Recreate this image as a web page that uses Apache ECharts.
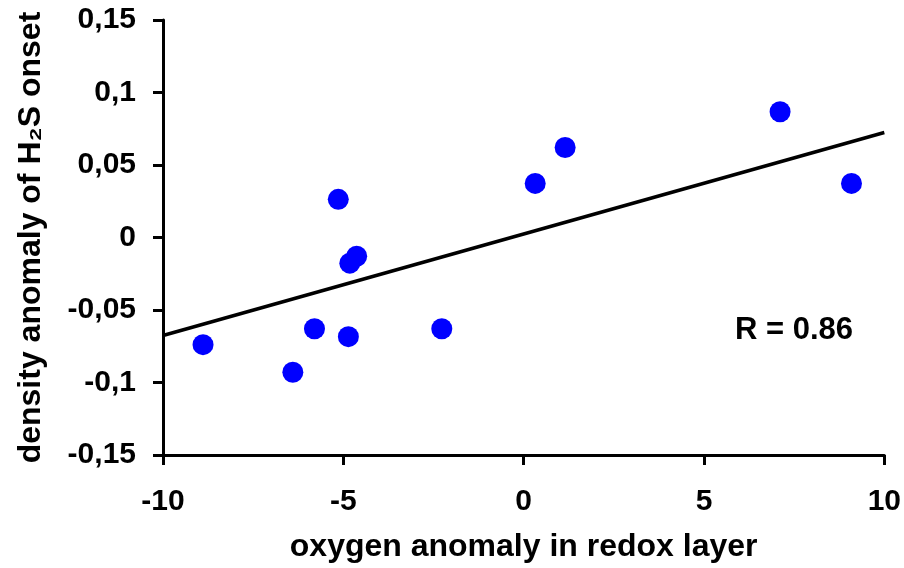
<!DOCTYPE html>
<html lang="en">
<head>
    <meta charset="UTF-8">
    <title>density anomaly vs oxygen anomaly</title>
    <style>
        body{ margin: 0; background: #fff; }
        #main{ width: 904px; height: 568px; }
    </style>
</head>
<body>
<div id="main"></div>
<script src="https://cdn.jsdelivr.net/npm/echarts@6/dist/echarts.min.js"></script>
<script>
    // points
    const oxygenAnomaly = [-8.89, -6.40, -5.80, -5.14, -4.86, -4.82, -4.63, -2.27, 0.32, 1.15, 7.11, 9.09];
    const densityAnomaly = [-0.0739, -0.0929, -0.0629, 0.0263, -0.0684, -0.0177, -0.0129, -0.0629, 0.0373, 0.0621, 0.0867, 0.0373];
    // regression line end points
    const trendX = [-10, 10];
    const trendY = [-0.0676, 0.0724];
    const xTicks = [-10, -5, 0, 5, 10];
    const yTicks = [-0.15, -0.1, -0.05, 0, 0.05, 0.1, 0.15];

    const font = 'Liberation Sans, Arial, sans-serif';
    const points = oxygenAnomaly.map((x, i) => [x, densityAnomaly[i]]);
    const trend = trendX.map((x, i) => [x, trendY[i]]);

    const myChart = echarts.init(document.getElementById('main'));
    myChart.setOption({
        animation: false,
        grid: { left: 163, right: 19, top: 20, bottom: 113 },
        xAxis: {
            type: 'value',
            min: xTicks[0],
            max: xTicks[xTicks.length - 1],
            interval: 5,
            splitLine: { show: false },
            axisLine: { onZero: false, lineStyle: { color: '#000', width: 3 } },
            axisTick: { length: 10, lineStyle: { color: '#000', width: 3 } },
            axisLabel: {
                margin: 32, color: '#000', fontSize: 30, fontWeight: 'bold', fontFamily: font
            },
            name: 'oxygen anomaly in redox layer',
            nameLocation: 'middle',
            nameGap: 76,
            nameTextStyle: { color: '#000', fontSize: 32, fontWeight: 'bold', fontFamily: font }
        },
        yAxis: {
            type: 'value',
            min: yTicks[0],
            max: yTicks[yTicks.length - 1],
            interval: 0.05,
            splitLine: { show: false },
            axisLine: { onZero: false, lineStyle: { color: '#000', width: 3 } },
            axisTick: { length: 10, lineStyle: { color: '#000', width: 3 } },
            axisLabel: {
                margin: 27, color: '#000', fontSize: 30, fontWeight: 'bold', fontFamily: font,
                formatter: v => String(+v.toFixed(2)).replace('.', ',')
            },
            name: 'density anomaly of H₂S onset',
            nameLocation: 'middle',
            nameGap: 116,
            nameTextStyle: { color: '#000', fontSize: 32, fontWeight: 'bold', fontFamily: font }
        },
        graphic: [{
            type: 'text',
            left: 735,
            top: 315,
            style: { text: 'R = 0.86', fill: '#000', font: 'bold 31px ' + font }
        }],
        series: [
            {
                type: 'line',
                data: trend,
                symbol: 'none',
                lineStyle: { color: '#000', width: 3.5 },
                z: 1
            },
            {
                type: 'scatter',
                data: points,
                symbolSize: 21,
                itemStyle: { color: '#0000ff', opacity: 1 },
                z: 2
            }
        ]
    });
</script>
</body>
</html>
